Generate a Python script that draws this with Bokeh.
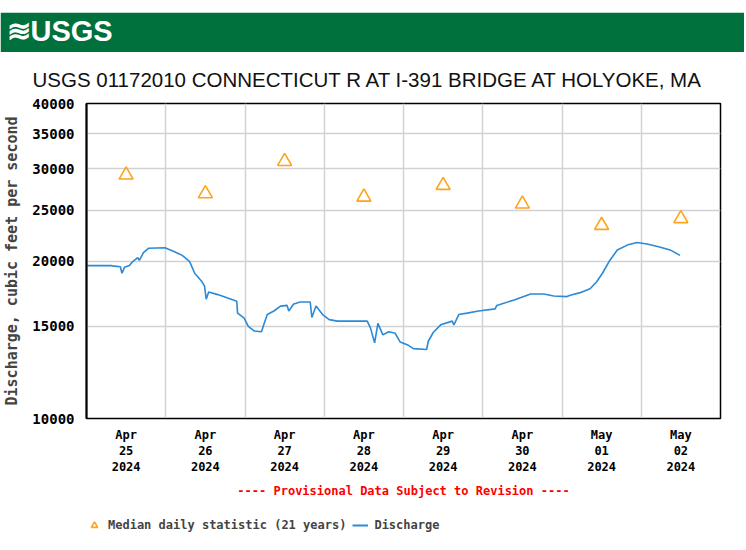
import pandas as pd
from bokeh.plotting import figure
from bokeh.models import (ColumnDataSource, FixedTicker, Legend, LegendItem,
                          Range1d, Spacer)
from bokeh.layouts import column
from bokeh.embed import file_html
from bokeh.resources import INLINE

# ---------------- data ----------------
times = [
    "2024-04-25 00:00", "2024-04-25 07:30", "2024-04-25 08:30", "2024-04-25 10:15",
    "2024-04-25 10:45", "2024-04-25 11:30", "2024-04-25 13:00", "2024-04-25 14:00",
    "2024-04-25 15:30", "2024-04-25 16:00", "2024-04-25 17:15", "2024-04-25 18:45",
    "2024-04-25 23:45", "2024-04-26 02:30", "2024-04-26 05:00", "2024-04-26 07:15",
    "2024-04-26 08:45", "2024-04-26 11:00", "2024-04-26 11:45", "2024-04-26 12:15",
    "2024-04-26 13:00", "2024-04-26 15:45", "2024-04-26 18:45", "2024-04-26 21:30",
    "2024-04-26 21:45", "2024-04-26 23:45", "2024-04-27 01:00", "2024-04-27 02:45",
    "2024-04-27 05:00", "2024-04-27 05:45", "2024-04-27 06:45", "2024-04-27 08:45",
    "2024-04-27 10:45", "2024-04-27 12:45", "2024-04-27 13:15", "2024-04-27 14:45",
    "2024-04-27 16:45", "2024-04-27 19:45", "2024-04-27 20:15", "2024-04-27 21:30",
    "2024-04-27 23:30", "2024-04-28 01:30", "2024-04-28 04:00", "2024-04-28 13:00",
    "2024-04-28 14:00", "2024-04-28 15:15", "2024-04-28 16:15", "2024-04-28 17:45",
    "2024-04-28 19:30", "2024-04-28 21:30", "2024-04-28 23:00", "2024-04-29 01:30",
    "2024-04-29 03:00", "2024-04-29 07:00", "2024-04-29 07:30", "2024-04-29 09:00",
    "2024-04-29 11:15", "2024-04-29 14:45", "2024-04-29 15:15", "2024-04-29 16:45",
    "2024-04-29 19:15", "2024-04-29 22:45", "2024-04-30 03:45", "2024-04-30 04:15",
    "2024-04-30 09:30", "2024-04-30 14:30", "2024-04-30 18:30", "2024-04-30 21:30",
    "2024-05-01 01:30", "2024-05-01 02:30", "2024-05-01 05:30", "2024-05-01 08:30",
    "2024-05-01 10:30", "2024-05-01 12:15", "2024-05-01 14:15", "2024-05-01 16:45",
    "2024-05-01 19:45", "2024-05-01 22:45", "2024-05-02 01:45", "2024-05-02 05:15",
    "2024-05-02 08:45", "2024-05-02 11:45",
]
discharge = [
    19600, 19600, 19550, 19500,
    18950, 19450, 19600, 19950,
    20300, 20050, 20750, 21150,
    21200, 20850, 20500, 19950,
    18950, 18250, 17900, 16900,
    17450, 17250, 17000, 16750,
    15900, 15550, 15000, 14700,
    14650, 15150, 15800, 16050,
    16400, 16450, 16050, 16550,
    16700, 16700, 15600, 16400,
    15800, 15450, 15350, 15350,
    14900, 13950, 15200, 14450,
    14650, 14550, 14000, 13800,
    13600, 13550, 14050, 14600,
    15100, 15350, 15100, 15800,
    15900, 16050, 16200, 16450,
    16850, 17300, 17300, 17150,
    17100, 17200, 17400, 17700,
    18250, 18950, 19950, 21000,
    21450, 21700, 21550, 21300,
    21000, 20500,
]
median_days = ["2024-04-25 12:00", "2024-04-26 12:00", "2024-04-27 12:00",
               "2024-04-28 12:00", "2024-04-29 12:00", "2024-04-30 12:00",
               "2024-05-01 12:00", "2024-05-02 12:00"]
median_values = [29200, 26900, 31000, 26500, 27900, 25700, 23400, 24100]
day_labels = ["Apr\n25\n2024", "Apr\n26\n2024", "Apr\n27\n2024", "Apr\n28\n2024",
              "Apr\n29\n2024", "Apr\n30\n2024", "May\n01\n2024", "May\n02\n2024"]
day_bounds = ["2024-04-26", "2024-04-27", "2024-04-28", "2024-04-29",
              "2024-04-30", "2024-05-01", "2024-05-02"]
x_start, x_end = "2024-04-25", "2024-05-03"
y_ticks = [10000, 15000, 20000, 25000, 30000, 35000, 40000]
y_tick_labels = ["10000", "15000", "20000", "25000", "30000", "35000", "40000"]

title_text = "USGS 01172010 CONNECTICUT R AT I-391 BRIDGE AT HOLYOKE, MA"
y_label = "Discharge, cubic feet per second"
note_text = "---- Provisional Data Subject to Revision ----"
median_label = "Median daily statistic (21 years)"
line_label = "Discharge"
banner_text = "\u224bUSGS"


def ms(s):
    return pd.Timestamp(s).value / 1e6


MONO = "DejaVu Sans Mono"
GREEN = "#00703c"
LINE_C = "#2a8ad8"
MED_C = "#ffa31a"
W = 744
BL, BR = 86, 24   # left / right borders of the figures

# ---------------- banner ----------------
b = figure(width=W, height=40, toolbar_location=None, output_backend="svg",
           x_range=Range1d(0, 1), y_range=Range1d(0, 1),
           min_border_top=0, min_border_bottom=0, min_border_left=BL, min_border_right=BR)
b.axis.visible = False
b.grid.visible = False
b.background_fill_color = GREEN
b.border_fill_color = GREEN
b.outline_line_color = GREEN
b.outline_line_width = 4
b.title.text = banner_text
b.title.align = "left"
b.title.offset = -80
b.title.standoff = 0
b.title.text_color = "white"
b.title.text_font = "Liberation Sans"
b.title.text_font_size = "29px"
b.title.text_font_style = "bold"

# ---------------- main chart ----------------
p = figure(width=W, height=458, y_axis_type="log",
           x_range=Range1d(ms(x_start), ms(x_end)), y_range=Range1d(10000, 40000),
           toolbar_location=None, output_backend="svg",
           min_border_left=BL, min_border_right=BR, min_border_top=50, min_border_bottom=92)

p.title.text = title_text
p.title.align = "left"
p.title.offset = -54
p.title.text_font = "Liberation Sans"
p.title.text_font_size = "20.5px"
p.title.text_font_style = "normal"
p.title.text_color = "#111111"
p.title.standoff = 26

src = ColumnDataSource(dict(t=[ms(t) for t in times], q=discharge))
med = ColumnDataSource(dict(t=[ms(t) for t in median_days], q=median_values))

r_line = p.line("t", "q", source=src, line_color=LINE_C, line_width=1.6)
r_med = p.scatter("t", "q", source=med, marker="triangle", size=14,
                  fill_color=None, line_color=MED_C, line_width=1.6)

# axes
p.axis.major_tick_out = 0
p.axis.major_tick_in = 0
p.axis.minor_tick_out = 0
p.axis.minor_tick_in = 0
p.axis.major_tick_line_color = None
p.axis.minor_tick_line_color = None
p.axis.axis_line_color = "black"

xticks = [ms(t) for t in median_days]
p.xaxis.ticker = FixedTicker(ticks=xticks)
p.xaxis.major_label_overrides = {t: lab for t, lab in zip(xticks, day_labels)}
p.xaxis.major_label_standoff = 9
p.xaxis.major_label_text_font = MONO
p.xaxis.major_label_text_font_style = "bold"
p.xaxis.major_label_text_font_size = "12px"
p.xaxis.major_label_text_line_height = 1.15
p.xaxis.major_label_text_color = "black"
p.xaxis.axis_label = note_text
p.xaxis.axis_label_text_color = "#ff0000"
p.xaxis.axis_label_text_font = MONO
p.xaxis.axis_label_text_font_style = "bold"
p.xaxis.axis_label_text_font_size = "12px"
p.xaxis.axis_label_standoff = 7

p.yaxis.ticker = FixedTicker(ticks=y_ticks)
p.yaxis.major_label_overrides = {t: lab for t, lab in zip(y_ticks, y_tick_labels)}
p.yaxis.major_label_standoff = 12
p.yaxis.major_label_text_font = MONO
p.yaxis.major_label_text_font_style = "bold"
p.yaxis.major_label_text_font_size = "14px"
p.yaxis.major_label_text_color = "black"
p.yaxis.axis_label = y_label
p.yaxis.axis_label_text_font = MONO
p.yaxis.axis_label_text_font_style = "bold"
p.yaxis.axis_label_text_font_size = "15px"
p.yaxis.axis_label_standoff = 8
p.yaxis.axis_line_width = 2

p.xgrid.ticker = FixedTicker(ticks=[ms(d) for d in day_bounds])
p.ygrid.ticker = FixedTicker(ticks=y_ticks)
p.grid.grid_line_color = "#d2d2d2"
p.grid.grid_line_width = 1.5
p.outline_line_color = "black"
p.outline_line_width = 1.5

# ---------------- legend strip ----------------
# the legend strip reuses the same sources; its ranges keep the marks out of view
lg = figure(width=W, height=30, toolbar_location=None, output_backend="svg",
            x_range=Range1d(0, 1), y_range=Range1d(0, 1),
            min_border_top=0, min_border_bottom=0, min_border_left=BL, min_border_right=BR)
lg.axis.visible = False
lg.grid.visible = False
lg.outline_line_color = None
l_med = lg.scatter("t", "q", source=med, marker="triangle", size=14,
                   fill_color=None, line_color=MED_C, line_width=1.6)
l_line = lg.line("t", "q", source=src, line_color=LINE_C, line_width=2)
legend = Legend(items=[LegendItem(label=median_label, renderers=[l_med]),
                       LegendItem(label=line_label, renderers=[l_line])],
                orientation="horizontal", location="center_left",
                padding=0, margin=0, spacing=6, glyph_width=16, label_standoff=6,
                label_text_font=MONO, label_text_font_style="bold",
                label_text_font_size="12px", border_line_color=None,
                background_fill_alpha=0)
lg.add_layout(legend, "center")

layout = column(Spacer(width=W, height=12), b, p, lg)

open("out.html", "w").write(file_html(layout, INLINE))
